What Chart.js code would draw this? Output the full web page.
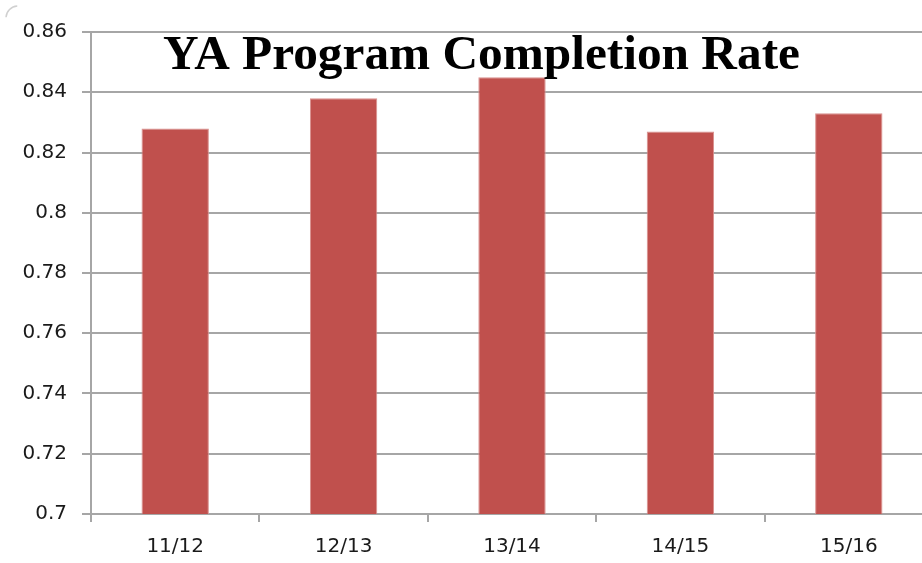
<!DOCTYPE html>
<html>
<head>
<meta charset="utf-8">
<script src="https://cdn.jsdelivr.net/npm/chart.js@4"></script>
<style>
  html, body { margin: 0; padding: 0; background: #ffffff; overflow: hidden; }
  #wrap { position: relative; width: 940px; height: 563px; }
</style>
</head>
<body>
<div id="wrap"><canvas id="c"></canvas></div>
<script>
const chartTitle = 'YA Program Completion Rate';
const categories = ['11/12', '12/13', '13/14', '14/15', '15/16'];
const completionRate = [0.828, 0.838, 0.845, 0.827, 0.833];
const yTickValues = [0.7, 0.72, 0.74, 0.76, 0.78, 0.8, 0.82, 0.84, 0.86];
const yTickLabels = ['0.7', '0.72', '0.74', '0.76', '0.78', '0.8', '0.82', '0.84', '0.86'];

const titlePlugin = {
  id: 'overlayTitle',
  afterDraw(chart) {
    const ctx = chart.ctx;
    ctx.save();
    ctx.font = 'bold 100px "Liberation Serif"';
    const w = ctx.measureText(chartTitle).width;
    const size = 100 * 637 / w;
    ctx.font = 'bold ' + size.toFixed(2) + 'px "Liberation Serif"';
    ctx.fillStyle = '#000000';
    ctx.textAlign = 'center';
    ctx.textBaseline = 'alphabetic';
    ctx.fillText(chartTitle, 481.5, 69);
    // small rounded corner of the chart frame
    ctx.strokeStyle = '#d0d0d0';
    ctx.lineWidth = 1.5;
    ctx.beginPath();
    ctx.arc(18, 18, 12, Math.PI * 1.02, Math.PI * 1.48);
    ctx.stroke();
    ctx.restore();
  }
};

new Chart(document.getElementById('c'), {
  type: 'bar',
  data: {
    labels: categories,
    datasets: [{
      data: completionRate,
      backgroundColor: '#C0504D',
      borderColor: '#D9908E',
      borderWidth: { left: 1, right: 1, top: 1, bottom: 0 },
      borderSkipped: 'bottom',
      barPercentage: 0.4,
      categoryPercentage: 1.0
    }]
  },
  options: {
    responsive: true,
    maintainAspectRatio: false,
    animation: false,
    layout: { padding: { top: 32, right: 7, left: 0, bottom: 0 } },
    plugins: {
      legend: { display: false },
      title: { display: false },
      tooltip: { enabled: false }
    },
    scales: {
      x: {
        offset: true,
        grid: {
          display: true,
          drawOnChartArea: false,
          drawTicks: true,
          tickLength: 8,
          color: '#a6a6a6',
          lineWidth: 2,
          offset: true
        },
        border: { display: true, color: '#a6a6a6', width: 2 },
        ticks: {
          color: '#1a1a1a',
          font: { family: 'DejaVu Sans', size: 20 },
          padding: 13,
          maxRotation: 0
        },
        afterFit(scale) { scale.height = 49; }
      },
      y: {
        min: 0.7,
        max: 0.86,
        afterBuildTicks(scale) {
          scale.ticks = yTickValues.map(v => ({ value: v }));
        },
        grid: {
          color: '#a6a6a6',
          lineWidth: 2,
          tickLength: 9,
          drawTicks: true
        },
        border: { display: true, color: '#a6a6a6', width: 2 },
        ticks: {
          color: '#1a1a1a',
          font: { family: 'DejaVu Sans', size: 20 },
          padding: 15,
          callback(value, index) { return yTickLabels[index]; }
        },
        afterFit(scale) { scale.width = 91; }
      }
    }
  },
  plugins: [titlePlugin]
});
</script>
</body>
</html>
